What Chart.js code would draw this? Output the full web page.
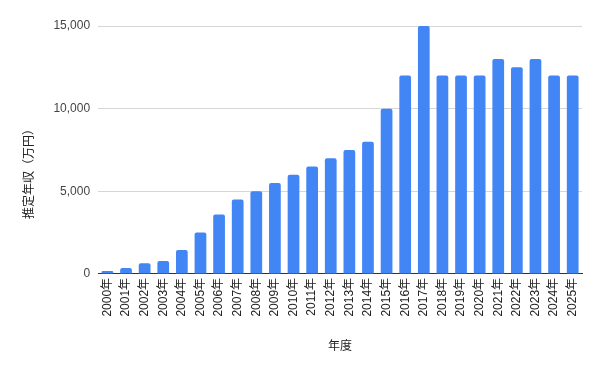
<!DOCTYPE html>
<html>
<head>
<meta charset="utf-8">
<script src="https://cdn.jsdelivr.net/npm/chart.js@4"></script>
<style>
  html, body { margin: 0; padding: 0; background: #fff; }
  #wrap { width: 601px; height: 371px; }
</style>
</head>
<body>
<div id="wrap"><canvas id="myChart"></canvas></div>
<script>
// years and estimated income (10k yen)
const years = ['2000年','2001年','2002年','2003年','2004年','2005年','2006年','2007年','2008年','2009年',
  '2010年','2011年','2012年','2013年','2014年','2015年','2016年','2017年','2018年','2019年',
  '2020年','2021年','2022年','2023年','2024年','2025年'];
const income = [180, 360, 650, 780, 1450, 2500, 3600, 4500, 5000, 5500,
  6000, 6500, 7000, 7500, 8000, 10000, 12000, 15000, 12000, 12000,
  12000, 13000, 12500, 13000, 12000, 12000];
const yTicks = [0, 5000, 10000, 15000];
const yTitle = '推定年収（万円）';

const font = "'Liberation Sans', Arial, 'Noto Sans CJK JP', sans-serif";

// y title sits a bit below the plot centre, so draw it by hand
const yTitlePlugin = {
  id: 'yTitle',
  afterDraw(chart) {
    const c = chart.ctx;
    const a = chart.chartArea;
    const cy = (a.top + a.bottom) / 2 + 21;
    c.save();
    c.translate(30, cy);
    c.rotate(-Math.PI / 2);
    c.fillStyle = '#222';
    c.font = '12px ' + font;
    c.textAlign = 'center';
    c.textBaseline = 'middle';
    c.fillText(yTitle, 0, 0);
    c.restore();
  }
};

var ctx = document.getElementById('myChart').getContext('2d');
var chart = new Chart(ctx, {
  type: 'bar',
  data: {
    labels: years,
    datasets: [{
      label: '推定年収',
      data: income,
      backgroundColor: '#4285F4',
      borderRadius: 2,
      borderSkipped: 'bottom',
      barPercentage: 0.63,
      categoryPercentage: 1.0
    }]
  },
  plugins: [yTitlePlugin],
  options: {
    responsive: true,
    maintainAspectRatio: false,
    animation: false,
    devicePixelRatio: 1,
    layout: { padding: { left: 19, right: 19, top: 26, bottom: 13 } },
    plugins: { legend: { display: false }, tooltip: { enabled: false } },
    scales: {
      x: {
        grid: { display: false, drawTicks: false },
        border: { color: '#333', width: 1 },
        ticks: {
          color: '#222', font: { family: font, size: 12 },
          minRotation: 90, maxRotation: 90, padding: 4, autoSkip: false
        },
        title: { display: true, text: '年度', color: '#222', font: { family: font, size: 12 }, padding: { top: 19 } }
      },
      y: {
        min: 0, max: 15000,
        afterBuildTicks: function (axis) { axis.ticks = yTicks.map(v => ({ value: v })); },
        grid: { color: '#d6d6d6', drawTicks: false },
        border: { display: false },
        ticks: {
          color: '#444', font: { family: font, size: 12 }, padding: 8,
          callback: v => v.toLocaleString('en-US')
        },
        // keeps the room for the hand-drawn title
        title: { display: true, text: yTitle, color: 'rgba(0,0,0,0)', font: { family: font, size: 12 }, padding: { bottom: 8 } }
      }
    }
  }
});
</script>
</body>
</html>
